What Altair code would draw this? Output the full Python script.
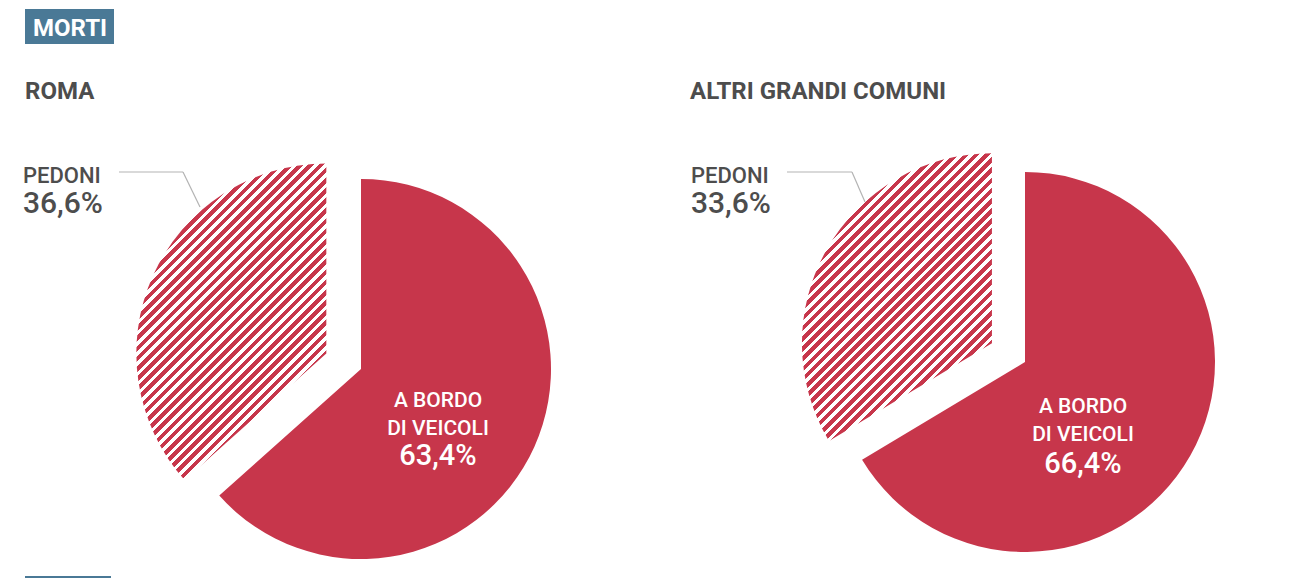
import math
import altair as alt
import pandas as pd

# ---- data ----
cities = ["ROMA", "ALTRI GRANDI COMUNI"]
categories = ["A BORDO DI VEICOLI", "PEDONI"]
roma_values = [63.4, 36.6]
altri_values = [66.4, 33.6]

rows = []
for city, vals in zip(cities, [roma_values, altri_values]):
    for i, (cat, v) in enumerate(zip(categories, vals)):
        rows.append({"city": city, "cat": cat, "value": v, "order": i})
df = pd.DataFrame(rows)
one = pd.DataFrame({"k": [0]})  # single row for annotations

# ---- style ----
RED = "#c7364b"
BLUE = "#4a7996"
GRAY = "#4d4d4d"
LINE = "#b3b3b3"
FONT = "Roboto"
R = 190
EXPLODE = 38
PERIOD = 7.2
RED_FRAC = 0.55

# layout (chart coords) per city
layout = {
    "ROMA": dict(cx=353, cy=361, tx=17, ped_x=15, line=[(111, 164, 175, 164), (175, 164, 192, 199)],
                 in_x=430, in_y=399, pct_y=457),
    "ALTRI GRANDI COMUNI": dict(cx=1017, cy=354, tx=682, ped_x=683,
                                line=[(779, 164, 844, 164), (844, 164, 857, 194)],
                                in_x=1075, in_y=405, pct_y=465),
}


def wedge_bbox(a0, a1, r):
    angs = [a0, a1] + [k * math.pi / 2 for k in range(0, 5) if a0 < k * math.pi / 2 < a1]
    xs = [0.0] + [r * math.sin(a) for a in angs]
    ys = [0.0] + [-r * math.cos(a) for a in angs]
    return max(xs) - min(xs), max(ys) - min(ys)


def hatch_gradient(w, h):
    L = (w + h) / math.sqrt(2)
    k = (w + h) / (w * w + h * h)
    stops = []
    i = 0
    while i * PERIOD < L:
        s = i * PERIOD / L
        m = min((i * PERIOD + RED_FRAC * PERIOD) / L, 1.0)
        e = min((i + 1) * PERIOD / L, 1.0)
        stops += [{"offset": s, "color": RED}, {"offset": m, "color": RED},
                  {"offset": m, "color": "#ffffff"}, {"offset": e, "color": "#ffffff"}]
        i += 1
    return alt.LinearGradient(gradient="linear", stops=stops, x1=0, y1=0, x2=k * w, y2=k * h)


def label_text(text, x, y, size, weight, color, align="left", **kw):
    return alt.Chart(one).mark_text(text=text, font=FONT, fontSize=size, fontWeight=weight,
                                    color=color, align=align, baseline="alphabetic", **kw).encode(
        x=alt.value(x), y=alt.value(y))


base = alt.Chart(df).transform_window(
    cum="sum(value)", sort=[alt.SortField("order")], groupby=["city"], frame=[None, 0]
).transform_calculate(
    start="datum.cum - datum.value",
    label="replace(format(datum.value, '.1f'), '.', ',') + '%'",
)

theta = alt.Theta("start:Q", scale=alt.Scale(domain=[0, 100]))
theta2 = alt.Theta2("cum:Q")

layers = []

# header box
layers.append(alt.Chart(one).mark_rect(fill=BLUE).encode(
    x=alt.value(17), x2=alt.value(106), y=alt.value(1), y2=alt.value(36)))
layers.append(label_text("MORTI", 25, 28, 24, "bold", "white"))
layers.append(alt.Chart(one).mark_rect(fill=BLUE).encode(
    x=alt.value(17), x2=alt.value(103), y=alt.value(568), y2=alt.value(576)))

for city, vals in zip(cities, [roma_values, altri_values]):
    L = layout[city]
    sub = base.transform_filter(alt.datum.city == city)
    # angles of pedoni slice from data
    a0 = vals[0] / 100 * 2 * math.pi
    a1 = 2 * math.pi
    mid = (a0 + a1) / 2
    dx = EXPLODE * math.sin(mid)
    dy = -EXPLODE * math.cos(mid)
    w, h = wedge_bbox(a0, a1, R)

    layers.append(sub.transform_filter(alt.datum.cat == categories[0]).mark_arc(
        radius=R, fill=RED).encode(
        theta=theta, theta2=theta2, x=alt.value(L["cx"]), y=alt.value(L["cy"])))
    layers.append(sub.transform_filter(alt.datum.cat == categories[1]).mark_arc(
        radius=R, fill=hatch_gradient(w, h)).encode(
        theta=theta, theta2=theta2, x=alt.value(L["cx"] + dx), y=alt.value(L["cy"] + dy)))

    # city title
    layers.append(label_text(city, L["tx"], 91, 24, "bold", GRAY))
    # pedoni labels
    layers.append(label_text("PEDONI", L["ped_x"], 175, 22, 500, GRAY))
    layers.append(sub.transform_filter(alt.datum.cat == categories[1]).mark_text(
        font=FONT, fontSize=30, fontWeight=500, color=GRAY, align="left",
        baseline="alphabetic").encode(
        x=alt.value(L["ped_x"]), y=alt.value(205), text="label:N"))
    for (x1, y1, x2, y2) in L["line"]:
        layers.append(alt.Chart(one).mark_rule(color=LINE, strokeWidth=1.2).encode(
            x=alt.value(x1), y=alt.value(y1), x2=alt.value(x2), y2=alt.value(y2)))
    # inside labels
    layers.append(label_text(["A BORDO", "DI VEICOLI"], L["in_x"], L["in_y"], 21, 500, "white",
                             align="center", lineHeight=28))
    layers.append(sub.transform_filter(alt.datum.cat == categories[0]).mark_text(
        font=FONT, fontSize=29, fontWeight=500, color="white", align="center",
        baseline="alphabetic").encode(
        x=alt.value(L["in_x"]), y=alt.value(L["pct_y"]), text="label:N"))

chart = alt.layer(*layers).properties(
    width=1298, height=570, padding=0, autosize=alt.AutoSizeParams(type="none")
).configure_view(stroke=None)

chart.save("out.html", embed_options={"renderer": "svg", "actions": False})
